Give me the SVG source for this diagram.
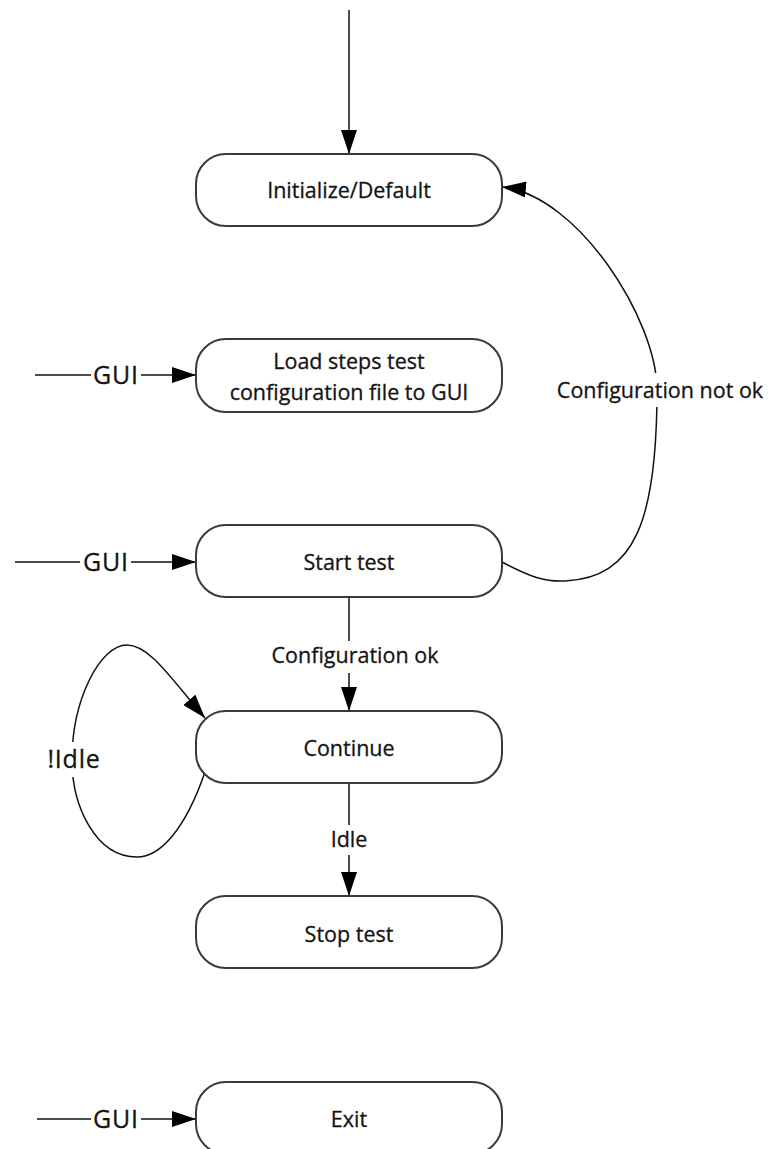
<svg xmlns="http://www.w3.org/2000/svg" width="773" height="1149" viewBox="0 0 773 1149">
  <style>
    .state rect { fill: #ffffff; stroke: #3a3a3a; stroke-width: 2; }
    .state text { font-family: "Open Sans", "Liberation Sans", sans-serif; font-size: 21.5px; fill: #141414; stroke: #141414; stroke-width: 0.3; text-anchor: middle; }
    .edge { fill: none; stroke: #111111; stroke-width: 1.5; }
    .arrow { marker-end: url(#head); }
    .lbl { font-family: "Open Sans", "Liberation Sans", sans-serif; font-size: 21.5px; fill: #141414; stroke: #141414; stroke-width: 0.3; text-anchor: middle; }
    .big { font-size: 25px; letter-spacing: 0.8px; }
    .knock { fill: #ffffff; stroke: none; }
  </style>
  <defs>
    <marker id="head" markerUnits="userSpaceOnUse" viewBox="0 0 24 16" markerWidth="24" markerHeight="16" refX="24" refY="8" orient="auto">
      <path d="M0,0 L24,8 L0,16 z" fill="#000000"/>
    </marker>
  </defs>

  <rect width="773" height="1149" fill="#ffffff"/>

  <!-- transitions -->
  <g id="connectors">
    <!-- entry into the initial state -->
    <path class="edge arrow" d="M349 10 L349 154"/>
    <!-- GUI triggers -->
    <path class="edge arrow" d="M35 375 L196 375"/>
    <path class="edge arrow" d="M15 562 L196 562"/>
    <path class="edge arrow" d="M37 1119 L196 1119"/>
    <!-- Start test -> Initialize/Default -->
    <path class="edge arrow" d="M502 562 C530 577 545 582 565 581 C635 578 657 520 657 390 C657 320 578 195 502 187"/>
    <!-- Start test -> Continue -->
    <path class="edge arrow" d="M349 597 L349 711"/>
    <!-- Continue self loop -->
    <path class="edge arrow" d="M205 772 C185 830 160 857 137 857 C95 857 72 805 72 760 C72 700 100 645 127 645 C150 645 172 680 205 718"/>
    <!-- Continue -> Stop test -->
    <path class="edge arrow" d="M349 783 L349 896"/>

    <!-- transition labels -->
    <g id="lbl-gui-load">
      <rect class="knock" x="91" y="360" width="50" height="30"/>
      <text class="lbl big" x="116" y="384">GUI</text>
    </g>
    <g id="lbl-gui-start">
      <rect class="knock" x="80" y="547" width="51" height="30"/>
      <text class="lbl big" x="106" y="571">GUI</text>
    </g>
    <g id="lbl-gui-exit">
      <rect class="knock" x="91" y="1104" width="50" height="30"/>
      <text class="lbl big" x="116" y="1128">GUI</text>
    </g>
    <g id="lbl-config-not-ok">
      <rect class="knock" x="550" y="373" width="218" height="34"/>
      <text class="lbl" x="660" y="398">Configuration not ok</text>
    </g>
    <g id="lbl-config-ok">
      <rect class="knock" x="262" y="641" width="186" height="32"/>
      <text class="lbl" x="355" y="663">Configuration ok</text>
    </g>
    <g id="lbl-not-idle">
      <rect class="knock" x="44" y="742" width="60" height="35"/>
      <text class="lbl big" x="74" y="768">!Idle</text>
    </g>
    <g id="lbl-idle">
      <rect class="knock" x="326" y="825" width="46" height="30"/>
      <text class="lbl" x="349" y="847">Idle</text>
    </g>
  </g>

  <!-- states -->
  <g id="initialize" class="state">
    <rect x="196" y="154" width="306" height="72" rx="30" ry="30"/>
    <text x="349" y="198">Initialize/Default</text>
  </g>
  <g id="load-config" class="state">
    <rect x="196" y="339" width="306" height="73" rx="30" ry="30"/>
    <text x="349" y="369">Load steps test</text>
    <text x="349" y="400">configuration file to GUI</text>
  </g>
  <g id="start-test" class="state">
    <rect x="196" y="525" width="306" height="72" rx="30" ry="30"/>
    <text x="349" y="570">Start test</text>
  </g>
  <g id="continue" class="state">
    <rect x="196" y="711" width="306" height="72" rx="30" ry="30"/>
    <text x="349" y="756">Continue</text>
  </g>
  <g id="stop-test" class="state">
    <rect x="196" y="896" width="306" height="72" rx="30" ry="30"/>
    <text x="349" y="942">Stop test</text>
  </g>
  <g id="exit" class="state">
    <rect x="196" y="1082" width="306" height="72" rx="30" ry="30"/>
    <text x="349" y="1127">Exit</text>
  </g>
</svg>
